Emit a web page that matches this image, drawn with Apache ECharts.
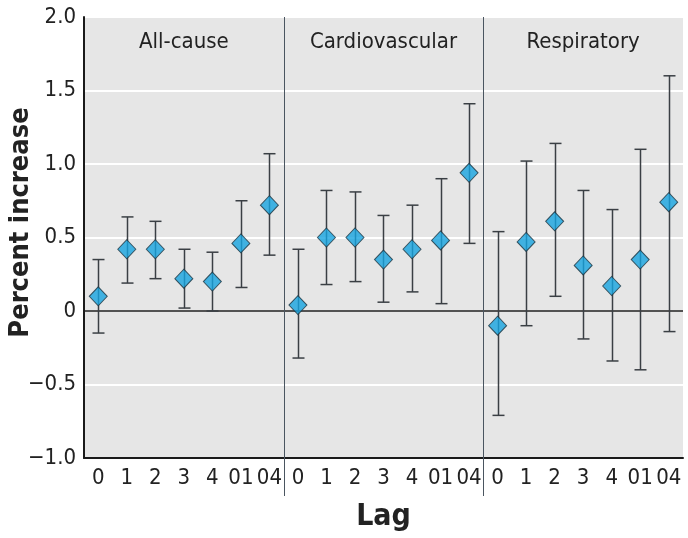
<!DOCTYPE html>
<html>
<head>
<meta charset="utf-8">
<script src="https://cdn.jsdelivr.net/npm/echarts@6/dist/echarts.min.js"></script>
<style>
html,body{margin:0;padding:0;background:#fff;}
#chart{width:688px;height:538px;}
</style>
</head>
<body>
<div id="chart"></div>
<script>
// ---- data ----
const lagLabels = ['0', '1', '2', '3', '4', '01', '04'];
const panelNames = ['All-cause', 'Cardiovascular', 'Respiratory'];
const yTicks = [-1.0, -0.5, 0, 0.5, 1.0, 1.5, 2.0];

const allCauseEst  = [0.10, 0.42, 0.42, 0.22, 0.20, 0.46, 0.72];
const allCauseLow  = [-0.15, 0.19, 0.22, 0.02, 0.00, 0.16, 0.38];
const allCauseHigh = [0.35, 0.64, 0.61, 0.42, 0.40, 0.75, 1.07];

const cardioEst  = [0.04, 0.50, 0.50, 0.35, 0.42, 0.48, 0.94];
const cardioLow  = [-0.32, 0.18, 0.20, 0.06, 0.13, 0.05, 0.46];
const cardioHigh = [0.42, 0.82, 0.81, 0.65, 0.72, 0.90, 1.41];

const respEst  = [-0.10, 0.47, 0.61, 0.31, 0.17, 0.35, 0.74];
const respLow  = [-0.71, -0.10, 0.10, -0.19, -0.34, -0.40, -0.14];
const respHigh = [0.54, 1.02, 1.14, 0.82, 0.69, 1.10, 1.60];

// ---- build ----
const estimates = [allCauseEst, cardioEst, respEst];
const lows = [allCauseLow, cardioLow, respLow];
const highs = [allCauseHigh, cardioHigh, respHigh];

const categories = [];
panelNames.forEach(() => lagLabels.forEach(l => categories.push(l)));

const pointData = [];
const barData = [];
estimates.forEach((arr, p) => {
  arr.forEach((v, i) => {
    const idx = p * lagLabels.length + i;
    pointData.push([idx, v]);
    barData.push([idx, lows[p][i], highs[p][i]]);
  });
});
const dividerData = [];
for (let p = 1; p < panelNames.length; p++) dividerData.push([p * lagLabels.length]);

const yMin = yTicks[0], yMax = yTicks[yTicks.length - 1];
const FONT = "'Liberation Sans Narrow','DejaVu Sans Condensed','Roboto Condensed',sans-serif";

const chart = echarts.init(document.getElementById('chart'), null, {renderer: 'canvas'});
chart.setOption({
  animation: false,
  backgroundColor: '#ffffff',
  grid: {
    left: 84, right: 5, top: 17, bottom: 80,
    outerBoundsMode: 'none',
    containLabel: false,
    show: true, backgroundColor: '#e6e6e6', borderWidth: 0
  },
  xAxis: [{
    type: 'category',
    data: categories,
    boundaryGap: true,
    position: 'bottom',
    axisLine: {onZero: false, lineStyle: {color: '#1a1a1a', width: 2}},
    axisTick: {show: false},
    axisLabel: {interval: 0, color: '#222', fontSize: 22, fontFamily: FONT, margin: 9},
    splitLine: {show: false},
    name: 'Lag',
    nameLocation: 'middle',
    nameGap: 44,
    nameMoveOverlap: false,
    nameTextStyle: {fontSize: 30, fontWeight: 'bold', color: '#222', fontFamily: FONT}
  }, {
    type: 'category',
    data: panelNames,
    position: 'top',
    boundaryGap: true,
    axisLine: {show: false},
    axisTick: {show: false},
    axisLabel: {inside: true, interval: 0, margin: 14, color: '#222', fontSize: 22, fontFamily: FONT, verticalAlign: 'top'},
    splitLine: {show: false}
  }],
  yAxis: {
    type: 'value',
    min: yMin, max: yMax, interval: 0.5,
    axisLine: {show: true, lineStyle: {color: '#1a1a1a', width: 2}},
    axisTick: {show: false},
    axisLabel: {
      color: '#222', fontSize: 22, fontFamily: FONT, margin: 8,
      formatter: v => v === 0 ? '0' : (v < 0 ? '\u2212' + Math.abs(v).toFixed(1) : v.toFixed(1))
    },
    splitLine: {show: true, lineStyle: {color: '#ffffff', width: 2}},
    name: 'Percent increase',
    nameLocation: 'middle',
    nameGap: 50,
    nameMoveOverlap: false,
    nameTextStyle: {fontSize: 27, fontWeight: 'bold', color: '#222', fontFamily: FONT, padding: [0, 0, 0, 30]}
  },
  series: [{
    type: 'custom',
    name: 'dividers',
    silent: true,
    clip: false,
    z: 3,
    data: dividerData,
    renderItem: (params, api) => {
      const half = api.size([1, 0])[0] / 2;
      const t = api.coord([api.value(0), yMax]);
      const b = api.coord([api.value(0), yMin]);
      const x = Math.round(t[0] - half) + 0.5;
      return {
        type: 'line',
        shape: {x1: x, y1: t[1], x2: x, y2: b[1] + 38},
        style: {stroke: '#4a5560', lineWidth: 1}
      };
    }
  }, {
    type: 'custom',
    name: 'ci',
    silent: true,
    z: 4,
    data: barData,
    renderItem: (params, api) => {
      const lo = api.coord([api.value(0), api.value(1)]);
      const hi = api.coord([api.value(0), api.value(2)]);
      const x = Math.round(lo[0]) + 0.5;
      const cw = 6;
      const st = {stroke: '#3a3f44', lineWidth: 1.5};
      return {
        type: 'group',
        children: [
          {type: 'line', shape: {x1: x, y1: lo[1], x2: x, y2: hi[1]}, style: st},
          {type: 'line', shape: {x1: x - cw, y1: lo[1], x2: x + cw, y2: lo[1]}, style: st},
          {type: 'line', shape: {x1: x - cw, y1: hi[1], x2: x + cw, y2: hi[1]}, style: st}
        ]
      };
    }
  }, {
    type: 'scatter',
    name: 'estimate',
    z: 5,
    symbol: 'diamond',
    symbolSize: [18, 19],
    itemStyle: {color: '#16a4e0', borderColor: '#1d3440', borderWidth: 1},
    data: pointData,
    markLine: {
      silent: true,
      symbol: 'none',
      label: {show: false},
      lineStyle: {color: '#1a1a1a', width: 1.5, type: 'solid'},
      data: [{yAxis: 0}],
      z: 2
    }
  }]
});
</script>
</body>
</html>
